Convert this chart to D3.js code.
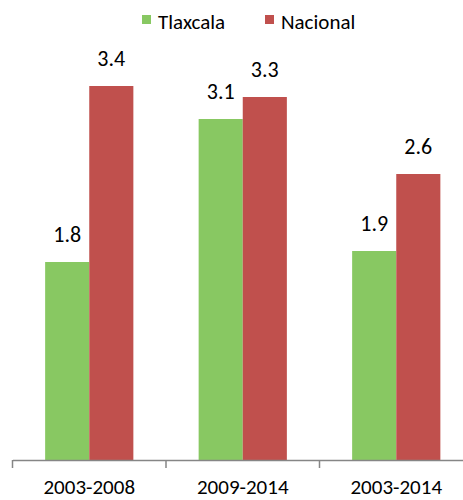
<!DOCTYPE html>
<html>
<head>
<meta charset="utf-8">
<script src="https://cdn.jsdelivr.net/npm/d3@7"></script>
<style>
  body { margin: 0; background: #fff; }
  svg { display: block; }
  text { font-family: Carlito, Calibri, Lato, sans-serif; fill: #000; }
</style>
</head>
<body>
<svg id="chart"></svg>
<script>
// Data
const periods = ["2003-2008", "2009-2014", "2003-2014"];
const seriesNames = ["Tlaxcala", "Nacional"];
const tlaxcala = [1.8, 3.1, 1.9];
const nacional = [3.4, 3.3, 2.6];
const colors = ["#88C862", "#C0504D"];

const width = 463;
const height = 500;
const axisY = 460;

const svg = d3.select("#chart")
  .attr("width", width)
  .attr("height", height);

// scales
const x0 = d3.scaleBand()
  .domain(periods)
  .range([12.5, 473]);

const x1 = d3.scaleBand()
  .domain(seriesNames)
  .range([0, x0.bandwidth()])
  .paddingInner(0)
  .paddingOuter(0.74);

const y = d3.scaleLinear()
  .domain([0, 4])
  .range([axisY, 20]);

const rows = periods.map((p, i) => ({
  period: p,
  values: [
    {name: seriesNames[0], value: tlaxcala[i]},
    {name: seriesNames[1], value: nacional[i]}
  ]
}));

// bars
const groups = svg.append("g")
  .selectAll("g")
  .data(rows)
  .join("g")
  .attr("transform", d => `translate(${x0(d.period)},0)`);

groups.selectAll("rect")
  .data(d => d.values)
  .join("rect")
  .attr("x", d => x1(d.name))
  .attr("y", d => y(d.value))
  .attr("width", x1.bandwidth())
  .attr("height", d => y(0) - y(d.value))
  .attr("fill", (d, i) => colors[i]);

// value labels
groups.selectAll("text")
  .data(d => d.values)
  .join("text")
  .attr("x", d => x1(d.name) + x1.bandwidth() / 2)
  .attr("y", d => y(d.value) - 20)
  .attr("text-anchor", "middle")
  .attr("font-size", "22px")
  .text(d => d.value.toFixed(1));

// x axis
const xAxis = svg.append("g")
  .attr("transform", `translate(0,${axisY})`)
  .call(d3.axisBottom(x0).tickSize(0).tickPadding(19));

xAxis.select(".domain")
  .attr("stroke", "#868686")
  .attr("stroke-width", 1.5);

xAxis.selectAll(".tick text")
  .attr("font-size", "21px")
  .attr("font-family", "Carlito, Calibri, Lato, sans-serif");

// boundary ticks
xAxis.selectAll(".bound")
  .data(periods.concat(["end"]))
  .join("line")
  .attr("class", "bound")
  .attr("x1", (d, i) => x0.range()[0] + i * x0.step())
  .attr("x2", (d, i) => x0.range()[0] + i * x0.step())
  .attr("y1", 0)
  .attr("y2", 8)
  .attr("stroke", "#868686")
  .attr("stroke-width", 1.5);

// legend
const legendX = [142, 265];
const legend = svg.append("g")
  .selectAll("g")
  .data(seriesNames)
  .join("g")
  .attr("transform", (d, i) => `translate(${legendX[i]},15)`);

legend.append("rect")
  .attr("width", 9)
  .attr("height", 9)
  .attr("fill", (d, i) => colors[i]);

legend.append("text")
  .attr("x", 16)
  .attr("y", 14)
  .attr("font-size", "21px")
  .text(d => d);
</script>
</body>
</html>
